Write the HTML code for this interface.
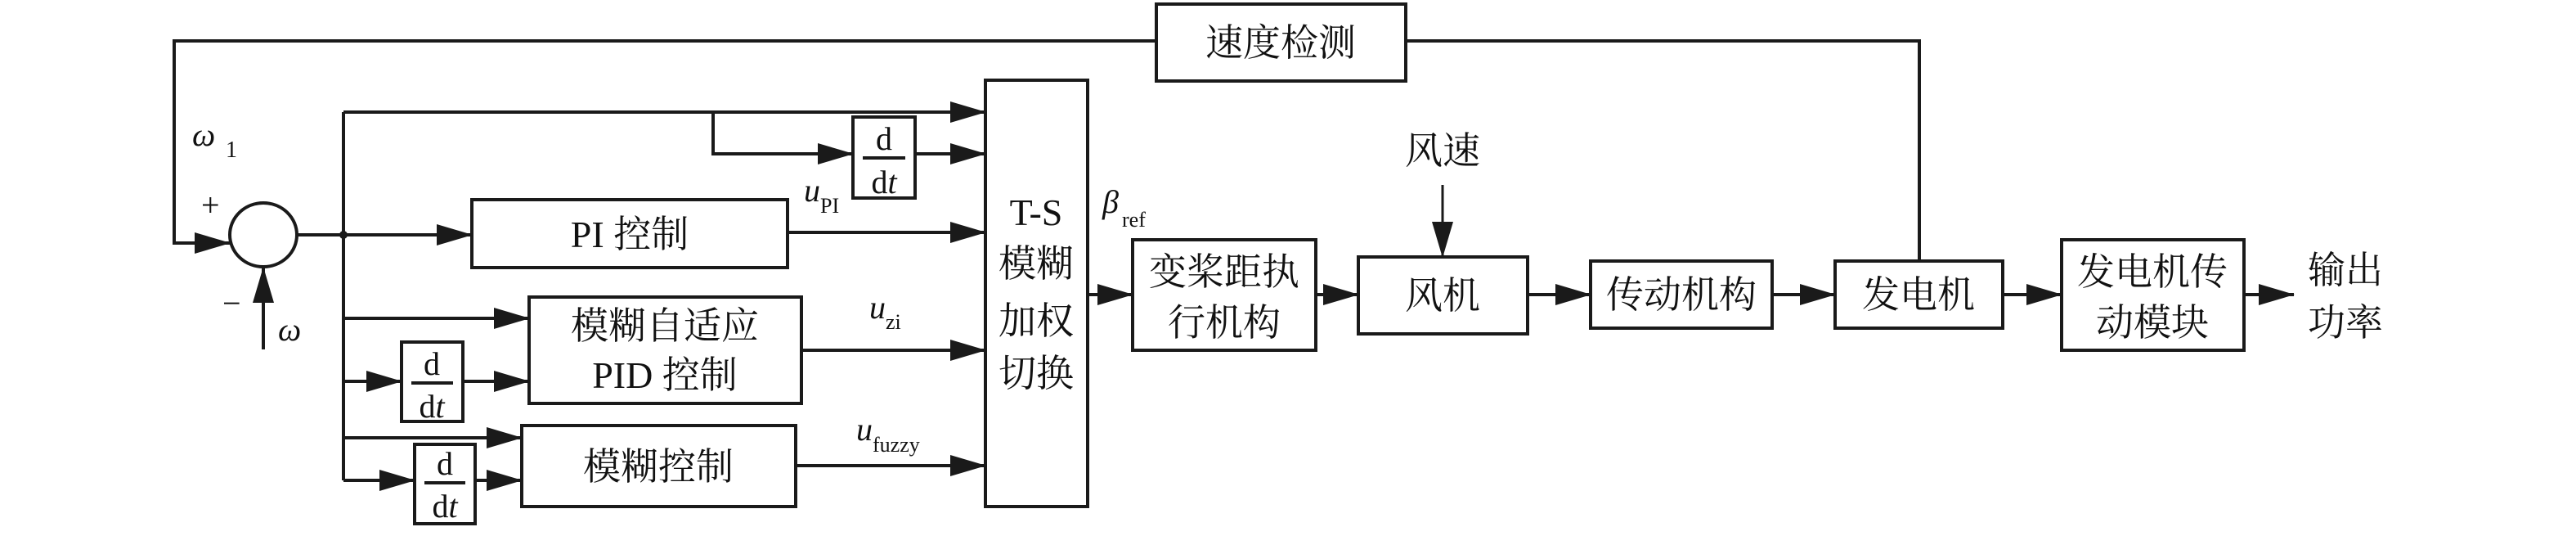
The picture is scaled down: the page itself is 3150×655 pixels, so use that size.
<!DOCTYPE html>
<html><head><meta charset="utf-8"><style>
html,body{margin:0;padding:0;background:#fff;}
svg{display:block}
.c{font-family:"Liberation Serif","Noto Serif CJK SC",serif;fill:#111;}
</style></head><body>
<svg width="3150" height="655" viewBox="0 0 3150 655" xmlns="http://www.w3.org/2000/svg">
<defs>
<marker id="a" markerWidth="44" markerHeight="26" refX="43" refY="13" orient="auto" markerUnits="userSpaceOnUse">
<path d="M0,0 L44,13 L0,26 Z" fill="#1a1a1a"/></marker>
</defs>
<g stroke="#1a1a1a" stroke-width="4" fill="none">
<!-- feedback -->
<polyline points="2347,318 2347,50 1719,50"/>
<polyline points="1414,50 213,50 213,297 281,297" marker-end="url(#a)"/>
<rect x="1414" y="5" width="305" height="94"/>
<ellipse cx="322" cy="287" rx="41" ry="39"/>
<line x1="322" y1="427" x2="322" y2="327" marker-end="url(#a)"/>
<line x1="363" y1="287" x2="420" y2="287"/>
<line x1="420" y1="137" x2="420" y2="587"/>
<!-- top -->
<line x1="420" y1="137" x2="1205" y2="137" marker-end="url(#a)"/>
<polyline points="872,137 872,188 1043,188" marker-end="url(#a)"/>
<rect x="1043" y="143" width="76" height="99"/>
<line x1="1119" y1="188" x2="1205" y2="188" marker-end="url(#a)"/>
<!-- PI -->
<line x1="420" y1="287" x2="577" y2="287" marker-end="url(#a)"/>
<rect x="577" y="244" width="386" height="83"/>
<line x1="963" y1="284" x2="1205" y2="284" marker-end="url(#a)"/>
<!-- fuzzy PID -->
<line x1="420" y1="389" x2="647" y2="389" marker-end="url(#a)"/>
<line x1="420" y1="466" x2="491" y2="466" marker-end="url(#a)"/>
<rect x="491" y="418" width="75" height="97"/>
<line x1="566" y1="466" x2="647" y2="466" marker-end="url(#a)"/>
<rect x="647" y="363" width="333" height="130"/>
<line x1="980" y1="428" x2="1205" y2="428" marker-end="url(#a)"/>
<!-- fuzzy -->
<line x1="420" y1="535" x2="638" y2="535" marker-end="url(#a)"/>
<line x1="420" y1="587" x2="507" y2="587" marker-end="url(#a)"/>
<rect x="507" y="543" width="74" height="97"/>
<line x1="581" y1="587" x2="638" y2="587" marker-end="url(#a)"/>
<rect x="638" y="520" width="335" height="99"/>
<line x1="973" y1="569" x2="1205" y2="569" marker-end="url(#a)"/>
<!-- TS -->
<rect x="1205" y="98" width="125" height="521"/>
<line x1="1330" y1="360" x2="1385" y2="360" marker-end="url(#a)"/>
<rect x="1385" y="293" width="224" height="135"/>
<line x1="1609" y1="360" x2="1661" y2="360" marker-end="url(#a)"/>
<rect x="1661" y="314" width="207" height="94"/>
<line x1="1764" y1="226" x2="1764" y2="314" stroke-width="3" marker-end="url(#a)"/>
<line x1="1868" y1="360" x2="1945" y2="360" marker-end="url(#a)"/>
<rect x="1945" y="319" width="222" height="82"/>
<line x1="2167" y1="360" x2="2244" y2="360" marker-end="url(#a)"/>
<rect x="2244" y="319" width="205" height="82"/>
<line x1="2449" y1="360" x2="2521" y2="360" marker-end="url(#a)"/>
<rect x="2521" y="293" width="223" height="135"/>
<line x1="2744" y1="360" x2="2805" y2="360" marker-end="url(#a)"/>
<!-- fraction bars -->
<line x1="1055" y1="193" x2="1107" y2="193"/>
<line x1="503" y1="468" x2="554" y2="468"/>
<line x1="519" y1="590" x2="569" y2="590"/>
</g>
<circle cx="420" cy="287" r="5" fill="#1a1a1a"/>
<g class="c" font-size="46" text-anchor="middle">
<text x="1566" y="68">速度检测</text>
<text x="770" y="302">PI 控制</text>
<text x="813" y="414">模糊自适应</text>
<text x="813" y="474">PID 控制</text>
<text x="805" y="586">模糊控制</text>
<text x="1267" y="275">T-S</text>
<text x="1267" y="338">模糊</text>
<text x="1267" y="408">加权</text>
<text x="1267" y="472">切换</text>
<text x="1497" y="348">变桨距执</text>
<text x="1497" y="410">行机构</text>
<text x="1764" y="377">风机</text>
<text x="1764" y="200">风速</text>
<text x="2056" y="376">传动机构</text>
<text x="2346" y="376">发电机</text>
<text x="2632" y="348">发电机传</text>
<text x="2632" y="410">动模块</text>
<text x="2868" y="346">输出</text>
<text x="2868" y="410">功率</text>
<text x="1081" y="183" font-size="40">d</text>
<text x="1081" y="236" font-size="40">d<tspan font-style="italic">t</tspan></text>
<text x="528" y="458" font-size="40">d</text>
<text x="528" y="510" font-size="40">d<tspan font-style="italic">t</tspan></text>
<text x="544" y="580" font-size="40">d</text>
<text x="544" y="632" font-size="40">d<tspan font-style="italic">t</tspan></text>
</g>
<g class="c" font-size="40">
<text x="235" y="178" font-style="italic">ω</text><text x="276" y="192" font-size="28">1</text>
<text x="246" y="264">+</text>
<text x="272" y="384">−</text>
<text x="340" y="416" font-style="italic">ω</text>
<text x="983" y="246" font-style="italic">u</text><text x="1003" y="260" font-size="26">PI</text>
<text x="1063" y="389" font-style="italic">u</text><text x="1083" y="402" font-size="26">zi</text>
<text x="1047" y="538" font-style="italic">u</text><text x="1067" y="552" font-size="26">fuzzy</text>
<text x="1348" y="260" font-style="italic">β</text><text x="1372" y="277" font-size="26">ref</text>
</g>
</svg>
</body></html>
